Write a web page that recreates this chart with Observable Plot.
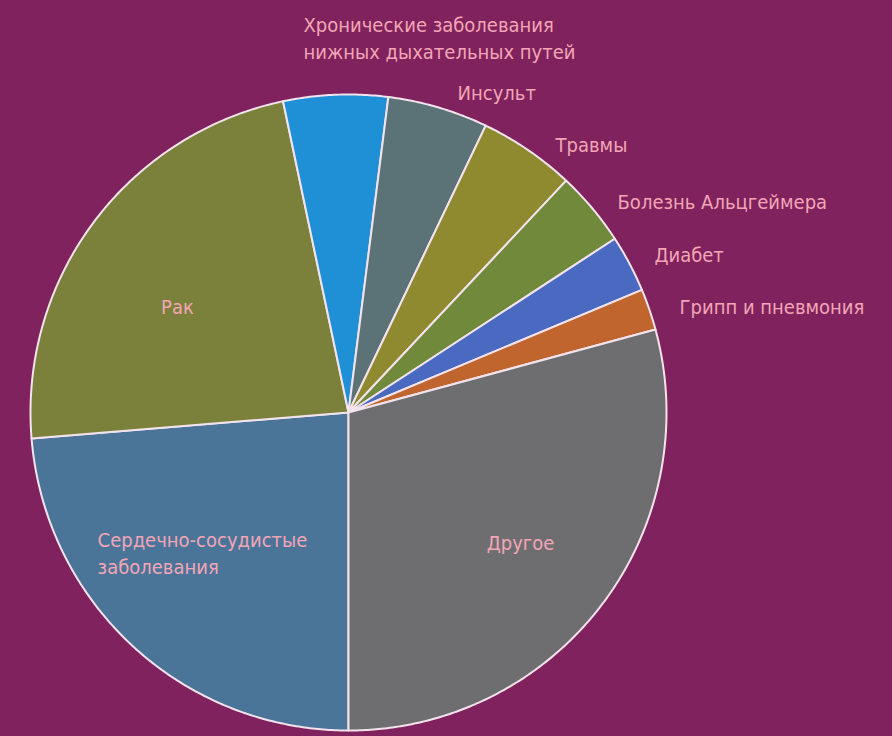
<!DOCTYPE html>
<html>
<head>
<meta charset="utf-8">
<script src="https://cdn.jsdelivr.net/npm/d3@7"></script>
<script src="https://cdn.jsdelivr.net/npm/@observablehq/plot@0.6"></script>
<style>
  html, body { margin: 0; padding: 0; background: #80225d; }
  #chart svg { display: block; }
</style>
</head>
<body>
<div id="chart"></div>
<script>
// Causes of death (share, %), clockwise starting at the bottom (6 o'clock)
const causes = [
  "Сердечно-сосудистые заболевания",
  "Рак",
  "Хронические заболевания нижных дыхательных путей",
  "Инсульт",
  "Травмы",
  "Болезнь Альцгеймера",
  "Диабет",
  "Грипп и пневмония",
  "Другое"
];
const shares = [23.7, 23.0, 5.3, 5.1, 4.9, 3.8, 2.9, 2.1, 29.2];
const sliceColors = ["#4a7599", "#7b803a", "#1f8fd6", "#5b7377", "#8f8a30", "#71893a", "#4a6ac2", "#c0652e", "#6e6e71"];

// Label texts (with line breaks) and their placement in the pie's unit coordinates
const labelTexts = [
  "Сердечно-сосудистые\nзаболевания",
  "Рак",
  "Хронические заболевания\nнижных дыхательных путей",
  "Инсульт",
  "Травмы",
  "Болезнь Альцгеймера",
  "Диабет",
  "Грипп и пневмония",
  "Другое"
];
const labelX = [-0.789, -0.538, -0.1415, 0.3428, 0.651, 0.846, 0.962, 1.041, 0.541];
const labelY = [-0.437, 0.337, 1.181, 1.0085, 0.846, 0.668, 0.50, 0.337, -0.406];
const labelAnchor = ["start", "middle", "start", "start", "start", "start", "start", "start", "middle"];

const rows = causes.map((c, i) => ({cause: c, share: shares[i]}));
const arcs = d3.pie().sort(null).value(d => d.share)
  .startAngle(Math.PI).endAngle(3 * Math.PI)(rows);

// polygon outline for each slice (center -> arc -> center), from the pie angles
const pts = [];
for (const a of arcs) {
  const c = a.data.cause;
  pts.push({cause: c, x: 0, y: 0});
  const n = Math.max(2, Math.ceil((a.endAngle - a.startAngle) / (Math.PI / 360)));
  for (let k = 0; k <= n; k++) {
    const t = a.startAngle + (a.endAngle - a.startAngle) * k / n;
    pts.push({cause: c, x: Math.sin(t), y: Math.cos(t)});
  }
  pts.push({cause: c, x: 0, y: 0});
}

const labels = labelTexts.map((t, i) => ({text: t, x: labelX[i], y: labelY[i], anchor: labelAnchor[i]}));

const chart = Plot.plot({
  width: 892,
  height: 736,
  marginLeft: 30,
  marginRight: 226,
  marginTop: 94,
  marginBottom: 6,
  style: "background:#80225d; font-family:'DejaVu Sans Condensed','DejaVu Sans',sans-serif; font-stretch:condensed;",
  x: {domain: [-1, 1], axis: null},
  y: {domain: [-1, 1], axis: null},
  color: {domain: causes, range: sliceColors},
  marks: [
    Plot.line(pts, {x: "x", y: "y", z: "cause", fill: "cause", stroke: "#f3e3ec", strokeWidth: 2, strokeLinejoin: "round"}),
    Plot.text(labels.filter(d => d.anchor === "start"), {x: "x", y: "y", text: "text", textAnchor: "start", lineAnchor: "middle", lineHeight: 1.35, fontSize: 20, fill: "#f2a6b6"}),
    Plot.text(labels.filter(d => d.anchor === "middle"), {x: "x", y: "y", text: "text", textAnchor: "middle", lineAnchor: "middle", lineHeight: 1.35, fontSize: 20, fill: "#f2a6b6"})
  ]
});
document.getElementById("chart").appendChild(chart);
</script>
</body>
</html>
